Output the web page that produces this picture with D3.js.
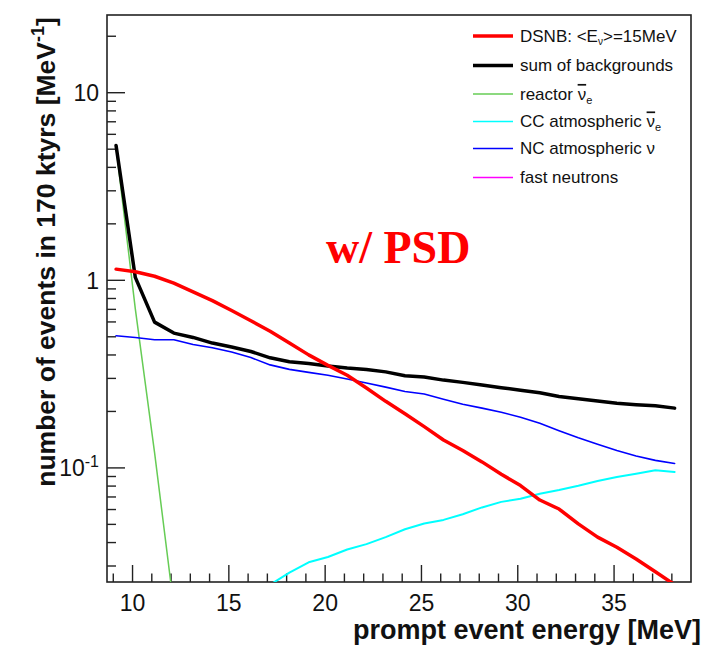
<!DOCTYPE html>
<html><head><meta charset="utf-8">
<script src="https://cdn.jsdelivr.net/npm/d3@7"></script>
<style>body{margin:0;background:#fff}svg{display:block}</style>
</head><body>
<script>
// ---- data ----
const energy = [9.17,10.17,11.17,12.17,13.17,14.17,15.17,16.17,17.17,18.17,19.17,20.17,21.17,22.17,23.17,24.17,25.17,26.17,27.17,28.17,29.17,30.17,31.17,32.17,33.17,34.17,35.17,36.17,37.17,38.17];
const dsnb = [1.14,1.105,1.045,0.96,0.862,0.775,0.686,0.605,0.532,0.46,0.398,0.35,0.31,0.265,0.225,0.193,0.165,0.14,0.123,0.107,0.092,0.08,0.067,0.06,0.05,0.0425,0.0375,0.0325,0.0278,0.0237];
const sumBkg = [5.2,1.03,0.595,0.52,0.493,0.46,0.438,0.415,0.384,0.366,0.358,0.347,0.339,0.333,0.323,0.308,0.303,0.292,0.284,0.275,0.266,0.258,0.25,0.239,0.232,0.226,0.22,0.216,0.213,0.207];
const ncAtm = [0.503,0.493,0.479,0.479,0.452,0.434,0.412,0.385,0.352,0.333,0.321,0.31,0.296,0.282,0.268,0.254,0.246,0.231,0.217,0.207,0.197,0.185,0.172,0.157,0.144,0.133,0.123,0.115,0.109,0.105];
const reactorE = [9.17,10.17,11.17,12.17];
const reactor = [5.1,0.7,0.12,0.018];
const ccE = [17.17,18.17,19.17,20.17,21.17,22.17,23.17,24.17,25.17,26.17,27.17,28.17,29.17,30.17,31.17,32.17,33.17,34.17,35.17,36.17,37.17,38.17];
const ccAtm = [0.0237,0.0275,0.0312,0.0333,0.0365,0.039,0.0425,0.0468,0.0502,0.0525,0.0563,0.0612,0.0655,0.068,0.0724,0.0758,0.0798,0.0846,0.089,0.0925,0.0965,0.0945];
const xMajorTicks = [10,15,20,25,30,35];
const yMajorTicks = [0.1,1,10];
const yMajorLabels = [["10","-1"],["1",""],["10",""]];
const legendLabels = ["DSNB", "sum of backgrounds", "reactor", "CC atmospheric", "NC atmospheric ν", "fast neutrons"];
const legendColors = ["#ff0000","#000000","#66cc55","#00ffff","#0000ff","#ff00ff"];
const legendWidths = [3.5,3.5,1.5,1.5,1.5,1.5];

// ---- layout ----
const W = 705, H = 648;
const L = 107, R = 691, T = 15, B = 582;
const svg = d3.select("body").append("svg").attr("width", W).attr("height", H);
svg.append("rect").attr("width", W).attr("height", H).attr("fill", "#fff");

const x = d3.scaleLinear().domain([8.7, 39.02]).range([L, R]);
const y = d3.scaleLog().domain([0.0245, 25.8]).range([B, T]);

svg.append("defs").append("clipPath").attr("id", "clip")
  .append("rect").attr("x", L).attr("y", T).attr("width", R - L).attr("height", B - T);

const ff = "'Liberation Sans', Arial, sans-serif";

// minor ticks
const xMinor = d3.range(9, 39).filter(v => !xMajorTicks.includes(v));
const yMinor = [];
[0.01, 0.1, 1, 10].forEach(d => { for (let k = 2; k <= 9; k++) { const v = d * k; if (v > 0.0245 && v < 25.8) yMinor.push(v); } });

const gx = svg.append("g").attr("transform", `translate(0,${B})`);
gx.call(d3.axisBottom(x).tickValues(xMinor).tickSize(-8.5).tickFormat(""));
const gx2 = svg.append("g").attr("transform", `translate(0,${B})`);
gx2.call(d3.axisBottom(x).tickValues(xMajorTicks).tickSize(-17).tickPadding(29).tickFormat(d3.format("d")));
const gy = svg.append("g").attr("transform", `translate(${L},0)`);
gy.call(d3.axisLeft(y).tickValues(yMinor).tickSize(-9).tickFormat(""));
const gy2 = svg.append("g").attr("transform", `translate(${L},0)`);
gy2.call(d3.axisLeft(y).tickValues(yMajorTicks).tickSize(-18).tickPadding(10).tickFormat(""));
[gx, gx2, gy, gy2].forEach(g => {
  g.select(".domain").remove();
  g.selectAll("line").attr("stroke", "#222").attr("stroke-width", 1.4);
});
gx2.selectAll("text").attr("font-family", ff).attr("font-size", 23).attr("fill", "#111").attr("dy", "0");
gy2.selectAll(".tick").each(function(d, i) {
  const t = d3.select(this).append("text").attr("x", -8).attr("dy", "0.36em")
    .attr("text-anchor", "end").attr("font-family", ff).attr("font-size", 23).attr("fill", "#111");
  const lab = yMajorLabels[i];
  t.append("tspan").text(lab[0]);
  if (lab[1]) t.append("tspan").attr("font-size", 16).attr("dy", "-0.55em").text(lab[1]);
});

// frame
svg.append("rect").attr("x", L).attr("y", T).attr("width", R - L).attr("height", B - T)
  .attr("fill", "none").attr("stroke", "#222").attr("stroke-width", 1.6);

// curves
const plot = svg.append("g").attr("clip-path", "url(#clip)");
const line = d3.line().x(d => x(d[0])).y(d => y(Math.max(d[1], 1e-4)));
function draw(xs, ys, color, w) {
  plot.append("path").datum(xs.map((v, i) => [v, ys[i]]))
    .attr("d", line).attr("fill", "none").attr("stroke", color).attr("stroke-width", w)
    .attr("stroke-linejoin", "round").attr("stroke-linecap", "round");
}
draw(reactorE, reactor, legendColors[2], 1.5);
draw(ccE, ccAtm, legendColors[3], 2);
draw(energy, ncAtm, legendColors[4], 1.6);
draw(energy, sumBkg, legendColors[1], 3.5);
draw(energy, dsnb, legendColors[0], 3.5);

// legend
const lg = svg.append("g");
const legY = [36, 65.5, 94, 121.5, 148.5, 177.5];
legendLabels.forEach((lab, i) => {
  lg.append("line").attr("x1", 473).attr("x2", 513).attr("y1", legY[i]).attr("y2", legY[i])
    .attr("stroke", legendColors[i]).attr("stroke-width", legendWidths[i]);
  const t = lg.append("text").attr("x", 520).attr("y", legY[i]).attr("dy", "0.35em")
    .attr("font-family", ff).attr("font-size", 17).attr("fill", "#111");
  if (i === 0) {
    t.append("tspan").text("DSNB: <E");
    t.append("tspan").attr("font-size", 10).attr("dy", "0.3em").text("ν");
    t.append("tspan").attr("dy", "-0.18em").text(">=15MeV");
  } else if (i === 2 || i === 3) {
    t.append("tspan").text(lab + " ");
    t.append("tspan").attr("text-decoration", "overline").text("ν");
    t.append("tspan").attr("font-size", 11).attr("dy", "0.35em").text("e");
  } else {
    t.text(lab);
  }
});

// annotation
svg.append("text").attr("x", 326).attr("y", 263).attr("font-family", "'Liberation Serif', 'Times New Roman', serif")
  .attr("font-weight", "bold").attr("font-size", 46).attr("fill", "#ff0000").text("w/ PSD");

// axis titles
svg.append("text").attr("x", 701).attr("y", 639).attr("text-anchor", "end")
  .attr("font-family", ff).attr("font-weight", "bold").attr("font-size", 27).attr("fill", "#111")
  .text("prompt event energy [MeV]");
const yt = svg.append("text").attr("transform", "translate(55,252) rotate(-90)").attr("text-anchor", "middle")
  .attr("font-family", ff).attr("font-weight", "bold").attr("font-size", 26.5).attr("fill", "#111");
yt.append("tspan").text("number of events in 170 ktyrs [MeV");
yt.append("tspan").attr("font-size", 18).attr("dy", "-0.6em").text("-1");
yt.append("tspan").attr("dy", "0.42em").text("]");
</script>
</body></html>
